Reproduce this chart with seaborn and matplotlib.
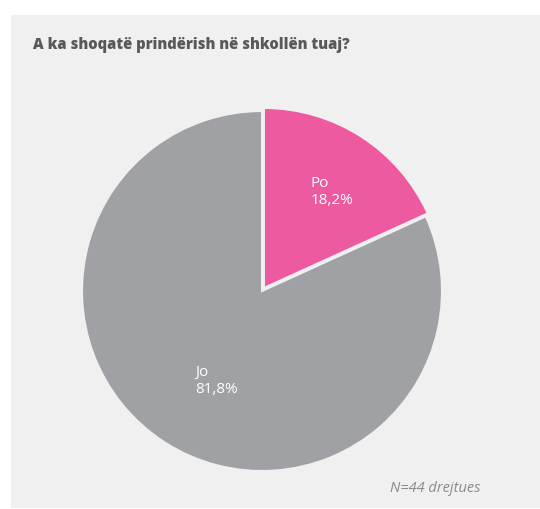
import matplotlib
matplotlib.use("Agg")
import matplotlib.pyplot as plt
from matplotlib.patches import Rectangle
import seaborn as sns

# Data
categories = ["Po", "Jo"]
shares = [18.2, 81.8]
value_labels = ["18,2%", "81,8%"]
title = "A ka shoqatë prindërish në shkollën tuaj?"
note = "N=44 drejtues"

sns.set_style("white")
plt.rcParams['font.family'] = ['Open Sans', 'DejaVu Sans']

colors = ["#ee5aa0", "#a0a1a4"]

fig = plt.figure(figsize=(5.4, 5.09), dpi=100)
fig.patch.set_facecolor("white")

# grey panel behind everything
fig.patches.append(Rectangle((11 / 540, 1 / 509), 529 / 540, 493 / 509,
                             transform=fig.transFigure, facecolor="#f0f0f0",
                             edgecolor="none", zorder=0))

ax = fig.add_axes([82 / 540, 38 / 509, 360 / 540, 360 / 509])
ax.set_zorder(2)
ax.set_facecolor("none")
wedges, _ = ax.pie(shares, colors=colors, startangle=90, counterclock=False,
                   explode=[0.02, 0], radius=1,
                   wedgeprops=dict(edgecolor="#f0f0f0", linewidth=1.5))
ax.set_xlim(-1, 1)
ax.set_ylim(-1, 1)
ax.set_aspect("equal")
ax.axis("off")

# slice labels
label_pos = [(0.27, 0.55), (-0.37, -0.50)]
for cat, lab, (x, y) in zip(categories, value_labels, label_pos):
    ax.text(x, y, f"{cat}\n{lab}", color="white", fontsize=11,
            ha="left", va="center", linespacing=1.2)

fig.text(33 / 540, 1 - 45 / 509, title, fontsize=10.6, fontweight="heavy",
         color="#58595b", ha="left", va="center", zorder=3)
fig.text(480 / 540, 1 - 488 / 509, note, fontsize=10.5, style="italic",
         color="#8a8a8c", ha="right", va="center", zorder=3)

fig.savefig("out.png", dpi=100, facecolor="white")
